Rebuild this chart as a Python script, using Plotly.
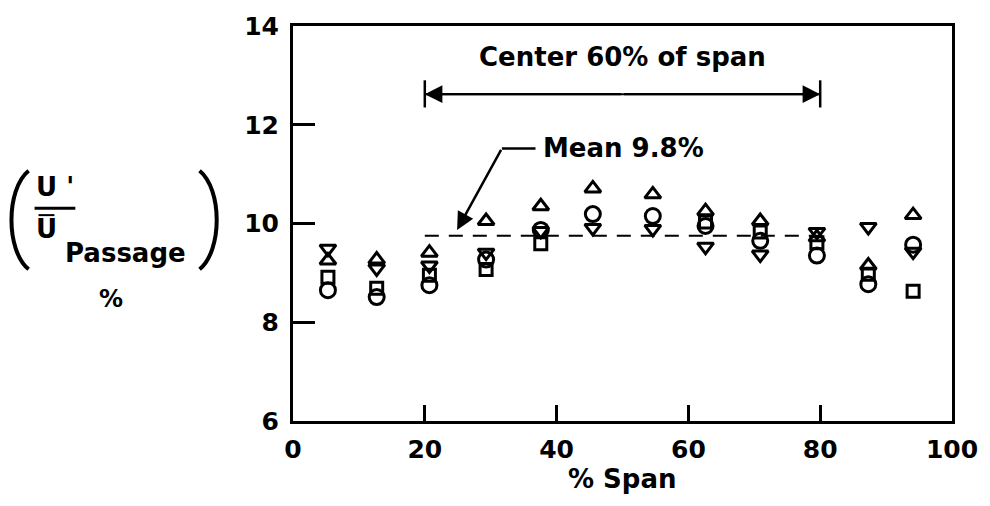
import plotly.graph_objects as go

# ---- data ----
span = [5.3, 12.7, 20.7, 29.3, 37.6, 45.5, 54.6, 62.6, 70.9, 79.5, 87.3, 94.1]
tri_up = [9.25, 9.27, 9.41, 10.05, 10.35, 10.71, 10.59, 10.25, 10.05, 9.72, 9.15, 10.17]
tri_down = [9.49, 9.09, 9.15, 9.41, 9.85, 9.91, 9.89, 9.53, 9.37, 9.83, 9.93, 9.43]
circle = [8.65, 8.51, 8.75, 9.27, 9.87, 10.19, 10.15, 9.95, 9.65, 9.35, 8.77, 9.57]
square = [8.91, 8.69, 8.95, 9.07, 9.59, None, None, 10.03, 9.83, 9.61, 8.97, 8.63]

mean_value = 9.75
center_range = [20, 80]
x_ticks = [0, 20, 40, 60, 80, 100]
y_ticks = [6, 8, 10, 12, 14]

W, H = 990, 506
L, R, T, B = 293, 34, 20, 85
PW, PH = W - L - R, H - T - B


def px(x):
    return (x - L) / PW


def py(y):
    return (H - B - y) / PH


FONT = "DejaVu Sans"
fig = go.Figure()

# dashed mean line over center 60%
fig.add_trace(go.Scatter(x=center_range, y=[mean_value, mean_value], mode="lines",
                         line=dict(color="black", width=2, dash="14px,10px"),
                         hoverinfo="skip", showlegend=False))

mk = dict(color="black", width=3)
fig.add_trace(go.Scatter(x=span, y=square, mode="markers", name="square",
                         marker=dict(symbol="square-open", size=12, color="black", line=mk)))
fig.add_trace(go.Scatter(x=span, y=circle, mode="markers", name="circle",
                         marker=dict(symbol="circle-open", size=15, color="black", line=mk)))
fig.add_trace(go.Scatter(x=span, y=tri_up, mode="markers", name="triangle up",
                         marker=dict(symbol="triangle-up-open", size=14, color="black", line=mk)))
fig.add_trace(go.Scatter(x=span, y=tri_down, mode="markers", name="triangle down",
                         marker=dict(symbol="triangle-down-open", size=14, color="black", line=mk)))

# bracket end bars
for xv in center_range:
    fig.add_trace(go.Scatter(x=[xv, xv], y=[12.35, 12.9], mode="lines",
                             line=dict(color="black", width=2.5),
                             hoverinfo="skip", showlegend=False))
# bracket line with arrows
fig.add_trace(go.Scatter(x=center_range, y=[12.62, 12.62], mode="lines",
                         line=dict(color="black", width=2),
                         hoverinfo="skip", showlegend=False))
annotations = []
for xv in center_range:
    annotations.append(dict(x=xv, y=12.62, ax=50, ay=12.62, xref="x", yref="y",
                            axref="x", ayref="y", text="", showarrow=True,
                            arrowhead=2, arrowsize=1.6, arrowwidth=2.2, arrowcolor="black"))

# Mean leader
fig.add_trace(go.Scatter(x=[31.7, 36.8], y=[11.52, 11.52], mode="lines",
                         line=dict(color="black", width=2.5),
                         hoverinfo="skip", showlegend=False))
annotations.append(dict(x=24.9, y=9.87, ax=31.7, ay=11.52, xref="x", yref="y",
                        axref="x", ayref="y", text="", showarrow=True,
                        arrowhead=2, arrowsize=1.4, arrowwidth=2.5, arrowcolor="black"))
annotations.append(dict(x=37.6, y=11.52, xref="x", yref="y", text="Mean 9.8%",
                        showarrow=False, xanchor="left", yanchor="middle",
                        font=dict(family=FONT, size=26, color="black", weight="bold")))
annotations.append(dict(x=50, y=13.38, xref="x", yref="y", text="Center 60% of span",
                        showarrow=False, xanchor="center", yanchor="middle",
                        font=dict(family=FONT, size=26, color="black", weight="bold")))

# x title
annotations.append(dict(x=px(625), y=py(480), xref="paper", yref="paper", text="% Span",
                        showarrow=False, xanchor="center", yanchor="middle",
                        font=dict(family=FONT, size=26, color="black", weight="bold")))

# y title pieces
tf = dict(family=FONT, size=26, color="black", weight="bold")
annotations += [
    dict(x=px(54), y=py(183), xref="paper", yref="paper", text="U '", showarrow=False,
         xanchor="center", yanchor="middle", font=tf),
    dict(x=px(45), y=py(226), xref="paper", yref="paper", text="U", showarrow=False,
         xanchor="center", yanchor="middle", font=tf),
    dict(x=px(124), y=py(250), xref="paper", yref="paper", text="Passage", showarrow=False,
         xanchor="center", yanchor="middle", font=dict(family=FONT, size=26, color="black", weight="bold")),
    dict(x=px(110), y=py(297), xref="paper", yref="paper", text="%", showarrow=False,
         xanchor="center", yanchor="middle", font=dict(family=FONT, size=24, color="black", weight="bold")),
]

shapes = [
    dict(type="line", xref="paper", yref="paper", x0=px(33), x1=px(74), y0=py(205), y1=py(205),
         line=dict(color="black", width=3)),
    dict(type="line", xref="paper", yref="paper", x0=px(37), x1=px(53), y0=py(212), y1=py(212),
         line=dict(color="black", width=2)),
    dict(type="path", xref="paper", yref="paper",
         path=f"M {px(27)},{py(167)} C {px(4)},{py(186)} {px(4)},{py(248)} {px(27)},{py(267)}",
         line=dict(color="black", width=4)),
    dict(type="path", xref="paper", yref="paper",
         path=f"M {px(199)},{py(167)} C {px(222)},{py(186)} {px(222)},{py(248)} {px(199)},{py(267)}",
         line=dict(color="black", width=4)),
]

fig.update_layout(
    width=W, height=H,
    margin=dict(l=L, r=R, t=T, b=B),
    paper_bgcolor="white", plot_bgcolor="white",
    showlegend=False,
    annotations=annotations,
    shapes=shapes,
    xaxis=dict(range=[0, 100], tickvals=x_ticks, ticktext=[str(v) for v in x_ticks],
               showgrid=False, zeroline=False, showline=True, linecolor="black", linewidth=3,
               mirror=True, ticks="inside", ticklen=16, tickwidth=2.5, tickcolor="black",
               tickfont=dict(family=FONT, size=25, color="black", weight="bold"),
               ticklabelstandoff=4),
    yaxis=dict(range=[6, 14], tickvals=y_ticks, ticktext=[str(v) for v in y_ticks],
               showgrid=False, zeroline=False, showline=True, linecolor="black", linewidth=3,
               mirror=True, ticks="inside", ticklen=22, tickwidth=2.5, tickcolor="black",
               tickfont=dict(family=FONT, size=25, color="black", weight="bold"),
               ticklabelstandoff=6),
)

fig.write_html("out.html", config={"displayModeBar": False},
               post_script="document.body.style.margin='0';")
